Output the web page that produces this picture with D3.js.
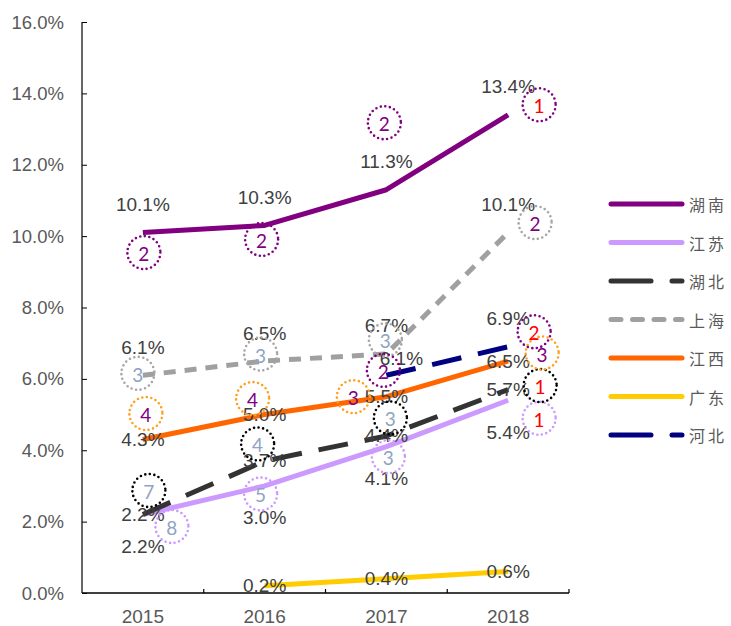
<!DOCTYPE html>
<html><head><meta charset="utf-8">
<script src="https://cdn.jsdelivr.net/npm/d3@7"></script>
<style>body{margin:0;background:#fff;} svg{display:block;}</style>
</head><body>
<svg id="c" width="731" height="626"></svg>
<script>
// ---- data ----
const years = ["2015", "2016", "2017", "2018"];
const yTicks = [0, 2, 4, 6, 8, 10, 12, 14, 16];
const seriesNames = ["湖南", "江苏", "湖北", "上海", "江西", "广东", "河北"];
const hunan = [10.1, 10.3, 11.3, 13.4];
const jiangsu = [2.2, 3.0, 4.1, 5.4];
const hubei = [2.2, 3.7, 4.4, 5.7];
const shanghai = [6.1, 6.5, 6.7, 10.1];
const jiangxi = [4.3, 5.0, 5.5, 6.5];
const guangdong = [null, 0.2, 0.4, 0.6];
const hebei = [null, null, 6.1, 6.9];
// rank annotations (circled numbers)
const hunanRank = [2, 2, 2, 1];
const jiangsuRank = [8, 5, 3, 1];
const hubeiRank = [7, 4, 3, 1];
const shanghaiRank = [3, 3, 3, 2];
const jiangxiRank = [4, 4, 3, 3];
const guangdongRank = [null, null, null, null];
const hebeiRank = [null, null, 2, 2];

// ---- styles ----
const P = "#800080", R = "#FF0000", B = "#8FA3C4";
const styles = [
  {color:"#800080", dash:null, label:"above", circle:"#800080", ct:[P,P,P,R], off:[[1,20],[-3,14],[-2,-67],[31,-10]]},
  {color:"#CC99FF", dash:null, label:"below", circle:"#CC99FF", ct:[B,B,B,R], off:[[29,12],[-4,8],[2,10],[31,18]]},
  {color:"#333333", dash:"30,17", label:"center", circle:"#000000", ct:[B,B,B,R], off:[[6,-24],[-7,-17],[4,-18],[32,-4]]},
  {color:"#A0A0A0", dash:"12,9", label:"above", circle:"#A6A6A6", ct:[B,B,B,P], off:[[-5,-2],[-4,-7],[-1,-14],[27,-10]]},
  {color:"#FF6600", dash:null, label:"center", circle:"#FFA020", ct:[P,P,P,P], off:[[3,-26],[-12,-16],[-33,0],[34,-8]]},
  {color:"#FFCC00", dash:null, label:"center", circle:null, ct:[], off:[]},
  {color:"#000080", dash:"30,17", label:"above", circle:"#800080", ct:[null,null,P,R], off:[null,null,[-3,-5],[26,-15]],
   labelOff:[null,null,[15,-17],null]}
];
const values = [hunan, jiangsu, hubei, shanghai, jiangxi, guangdong, hebei];
const ranks = [hunanRank, jiangsuRank, hubeiRank, shanghaiRank, jiangxiRank, guangdongRank, hebeiRank];

const svg = d3.select("#c");
const x = d3.scaleBand().domain(years).range([82, 569]);
const y = d3.scaleLinear().domain([0, 16]).range([593, 22]);
const cx = d => x(d) + x.bandwidth() / 2;
const FONT = "Liberation Sans, Arial, sans-serif";

// axes
const yAxis = svg.append("g").attr("transform", "translate(82,0)")
  .call(d3.axisRight(y).tickValues(yTicks).tickSize(5).tickFormat(""));
yAxis.select(".domain").attr("stroke", "#000").attr("stroke-width", 1.2).attr("d", "M0,22V593");
yAxis.selectAll(".tick line").attr("stroke", "#000");
svg.append("g").selectAll("text").data(yTicks).join("text")
  .attr("x", 64).attr("y", d => y(d)).attr("text-anchor", "end").attr("dominant-baseline", "central")
  .attr("font-family", FONT).attr("font-size", 18.5).attr("fill", "#595959")
  .text(d => d.toFixed(1) + "%");

const xAxis = svg.append("g").attr("transform", "translate(0,593)")
  .call(d3.axisTop(x).tickSize(0).tickFormat(""));
xAxis.select(".domain").attr("stroke", "#000").attr("stroke-width", 1.5).attr("d", "M82,0H569");
svg.append("g").selectAll("line").data(years).join("line")
  .attr("x1", d => x(d) + x.bandwidth()).attr("x2", d => x(d) + x.bandwidth())
  .attr("y1", 593).attr("y2", 589).attr("stroke", "#000").attr("stroke-width", 1.2);
svg.append("g").selectAll("text").data(years).join("text")
  .attr("x", d => cx(d)).attr("y", 616).attr("text-anchor", "middle").attr("dominant-baseline", "central")
  .attr("font-family", FONT).attr("font-size", 19).attr("fill", "#595959")
  .text(d => d);

// lines
const line = d3.line().defined(d => d.v !== null).x(d => cx(d.year)).y(d => y(d.v));
values.forEach((vals, si) => {
  const pts = vals.map((v, i) => ({year: years[i], v}));
  svg.append("path").datum(pts).attr("d", line).attr("fill", "none")
    .attr("stroke", styles[si].color).attr("stroke-width", 5)
    .attr("stroke-linejoin", "round")
    .attr("stroke-dasharray", styles[si].dash);
});

// data labels
values.forEach((vals, si) => {
  const st = styles[si];
  vals.forEach((v, i) => {
    if (v === null) return;
    let dx = 0, dy = st.label === "above" ? -28 : st.label === "below" ? 32 : 0;
    if (st.labelOff && st.labelOff[i]) { dx = st.labelOff[i][0]; dy = st.labelOff[i][1]; }
    svg.append("text").attr("x", cx(years[i]) + dx).attr("y", y(v) + dy)
      .attr("text-anchor", "middle").attr("dominant-baseline", "central")
      .attr("font-family", FONT).attr("font-size", 19).attr("fill", "#404040")
      .text(v.toFixed(1) + "%");
  });
});

// rank circles
ranks.forEach((rk, si) => {
  const st = styles[si];
  rk.forEach((r, i) => {
    if (r === null) return;
    const px = cx(years[i]) + st.off[i][0], py = y(values[si][i]) + st.off[i][1];
    svg.append("circle").attr("cx", px).attr("cy", py).attr("r", 16.5)
      .attr("fill", "none").attr("stroke", st.circle).attr("stroke-width", 2.6)
      .attr("stroke-dasharray", "0,4.6").attr("stroke-linecap", "round");
    svg.append("text").attr("x", px).attr("y", py + 1).attr("text-anchor", "middle").attr("dominant-baseline", "central")
      .attr("font-family", "Lato, Open Sans, sans-serif").attr("font-size", 19).attr("fill", st.ct[i])
      .text(r);
  });
});

// legend
const lg = svg.append("g");
seriesNames.forEach((n, i) => {
  const ly = 204 + i * 38.5;
  const st = styles[i];
  const ln = lg.append("line").attr("x1", 611).attr("x2", 682).attr("y1", ly).attr("y2", ly)
    .attr("stroke", st.color).attr("stroke-width", 5).attr("stroke-linecap", "round");
  if (st.dash === "30,17") ln.attr("stroke-dasharray", "40,21");
  if (st.dash === "12,9") ln.attr("stroke-dasharray", "10,11.5");
  lg.append("text").attr("x", 689).attr("y", ly).attr("dominant-baseline", "central")
    .attr("font-family", "Noto Sans CJK SC, sans-serif").attr("font-size", 16).attr("fill", "#595959")
    .attr("letter-spacing", 3).text(n);
});
</script>
</body></html>
